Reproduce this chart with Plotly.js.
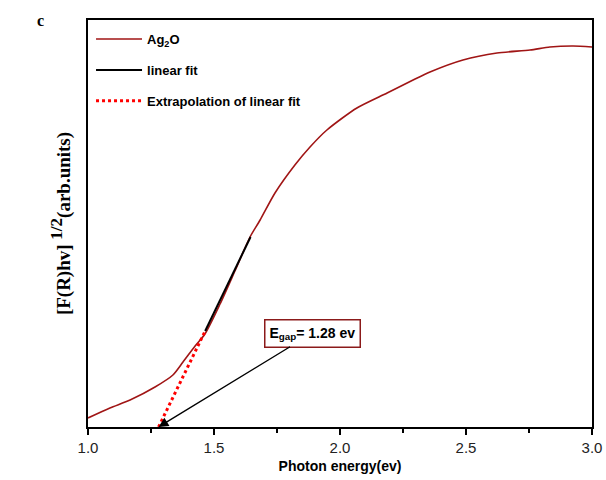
<!DOCTYPE html>
<html>
<head>
<meta charset="utf-8">
<script src="https://cdn.plot.ly/plotly-3.0.1.min.js"></script>
<style>html,body{margin:0;padding:0;background:#fff;}#chart{width:606px;height:480px;}</style>
</head>
<body>
<div id="chart"></div>
<script>
// Ag2O absorption curve (photon energy in eV, arbitrary units)
var energy = [1.000, 1.087, 1.167, 1.266, 1.337, 1.377, 1.425, 1.464, 1.524, 1.583, 1.643, 1.683, 1.742, 1.821, 1.881, 1.948, 2.067, 2.187, 2.290, 2.357, 2.488, 2.623, 2.754, 2.833, 2.925, 3.000];
var signal = [9, 19, 27, 40, 52, 65, 81, 93, 123, 156, 190, 207, 234, 262, 280, 297, 319, 334, 347, 355, 367, 374, 377, 380, 381, 380];
// linear fit segment
var fitX = [1.465, 1.645];
var fitY = [96, 190];
// extrapolation of linear fit to the energy axis
var extrapX = [1.28, 1.465];
var extrapY = [0, 96];
var egap = 1.28;
var xTicks = [1.0, 1.5, 2.0, 2.5, 3.0];
var xTickText = ['1.0', '1.5', '2.0', '2.5', '3.0'];

var traces = [
  {x: energy, y: signal, type: 'scatter', mode: 'lines', name: 'Ag<sub>2</sub>O',
   line: {color: '#a01515', width: 1.6, shape: 'spline', smoothing: 0.7}, legendgroup: 'a'},
  {x: fitX, y: fitY, type: 'scatter', mode: 'lines', name: 'linear fit',
   line: {color: '#000', width: 2}, legendgroup: 'b'},
  {x: extrapX, y: extrapY, type: 'scatter', mode: 'lines', name: 'Extrapolation of linear fit',
   line: {color: '#ff0000', width: 3, dash: 'dot'}, legendgroup: 'c'}
];

var layout = {
  width: 606, height: 480,
  margin: {l: 88, r: 14, t: 20, b: 53},
  paper_bgcolor: '#fff', plot_bgcolor: '#fff',
  showlegend: true,
  legend: {x: 0.006, y: 0.99, xanchor: 'left', yanchor: 'top', bgcolor: 'rgba(0,0,0,0)',
           borderwidth: 0, itemwidth: 46,
           font: {family: 'Liberation Sans, Arial, sans-serif', size: 13, color: '#000', weight: 'bold'},
           traceorder: 'grouped', tracegroupgap: 11},
  xaxis: {range: [1, 3], tickvals: xTicks, ticktext: xTickText, ticks: 'outside', ticklen: 6, tickwidth: 1.5,
          tickcolor: '#000', showline: true, linecolor: '#000', linewidth: 2, mirror: true, showgrid: false, zeroline: false,
          tickfont: {family: 'Liberation Sans, Arial, sans-serif', size: 15, color: '#222'},
          minor: {dtick: 0.25, tick0: 1, ticks: 'outside', ticklen: 4, tickwidth: 1.5, tickcolor: '#000', showgrid: false},
          title: {text: 'Photon energy(ev)', standoff: 6,
                  font: {family: 'Liberation Sans, Arial, sans-serif', size: 14, color: '#000', weight: 'bold'}}},
  yaxis: {range: [0, 407], showticklabels: false, ticks: '', showline: true, linecolor: '#000', linewidth: 2,
          mirror: true, showgrid: false, zeroline: false,
          title: {text: '[F(R)hv] <sup><span style="font-size:17px">1/2</span></sup>(arb.units)', standoff: 10,
                  font: {family: 'Liberation Serif, Times New Roman, serif', size: 19, color: '#000', weight: 'bold'}}},
  annotations: [
    {x: egap, y: 0, xref: 'x', yref: 'y', ax: 154, ay: -94, axref: 'pixel', ayref: 'pixel',
     text: 'E<sub>gap</sub>= 1.28 ev', showarrow: true, arrowhead: 2, arrowsize: 1.4, arrowwidth: 1.4,
     arrowcolor: '#000', bordercolor: '#8b1a1a', borderwidth: 1.5, borderpad: 4, bgcolor: '#fff',
     font: {family: 'Liberation Sans, Arial, sans-serif', size: 14, color: '#000', weight: 'bold'}},
    {x: -0.095, y: 1.0, xref: 'paper', yref: 'paper', text: 'c', showarrow: false,
     xanchor: 'center', yanchor: 'middle',
     font: {family: 'Liberation Serif, Times New Roman, serif', size: 16, color: '#000', weight: 'bold'}}
  ]
};

Plotly.newPlot('chart', traces, layout, {displayModeBar: false, staticPlot: true});
</script>
</body>
</html>
